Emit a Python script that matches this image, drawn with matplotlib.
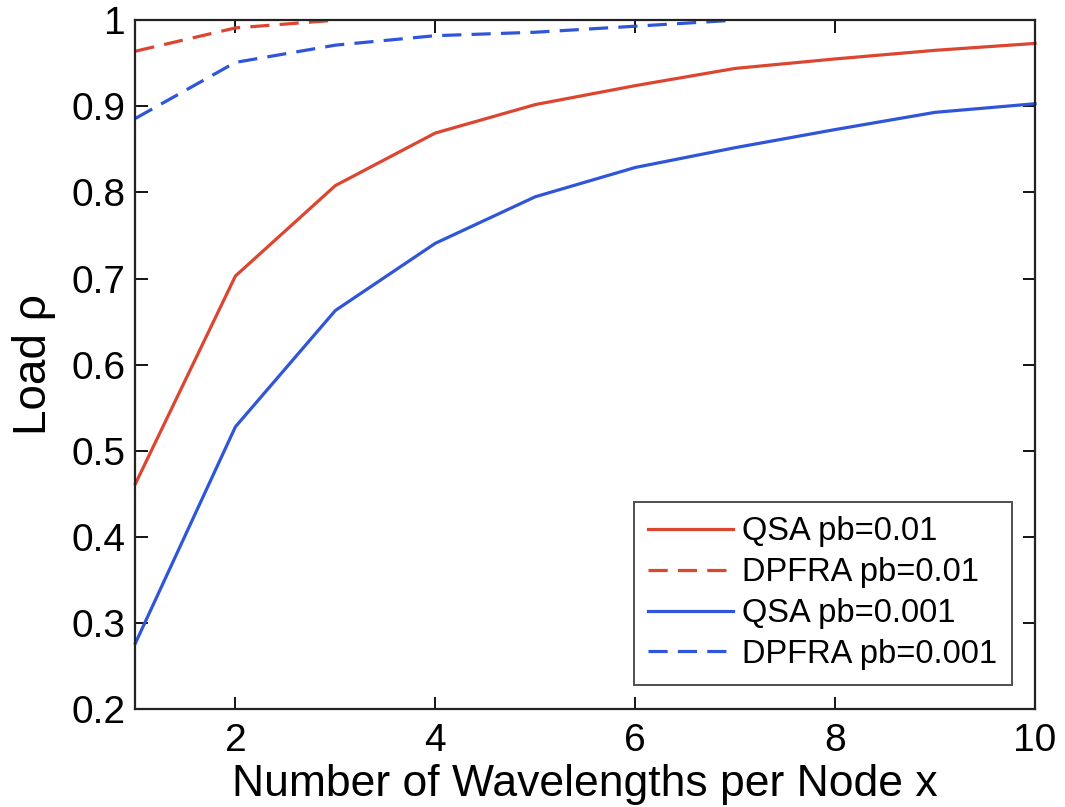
import matplotlib
matplotlib.use("Agg")
import matplotlib.pyplot as plt

plt.rcParams['font.family'] = ['Liberation Sans', 'DejaVu Sans']

x_all = [1, 2, 3, 4, 5, 6, 7, 8, 9, 10]
qsa_001 = [0.462, 0.703, 0.808, 0.869, 0.902, 0.924, 0.944, 0.955, 0.965, 0.973]
qsa_0001 = [0.277, 0.528, 0.663, 0.741, 0.795, 0.829, 0.852, 0.873, 0.893, 0.903]
x_dp001 = [1, 2, 3]
dp_001 = [0.964, 0.991, 1.0]
x_dp0001 = [1, 2, 3, 4, 5, 6, 7]
dp_0001 = [0.886, 0.951, 0.971, 0.982, 0.986, 0.993, 1.0]

labels = ['QSA pb=0.01', 'DPFRA pb=0.01', 'QSA pb=0.001', 'DPFRA pb=0.001']
red = '#dc4530'
blue = '#2f55d8'

fig = plt.figure(figsize=(10.65, 8.07), dpi=100)
ax = fig.add_axes([0.1272, 0.121, 0.8446, 0.854])

lw = 2.3
dash = (0, (6, 3.2))
ax.plot(x_all, qsa_001, color=red, lw=lw, label=labels[0], clip_on=False)
ax.plot(x_dp001, dp_001, color=red, lw=lw, ls=dash, label=labels[1], clip_on=False)
ax.plot(x_all, qsa_0001, color=blue, lw=lw, label=labels[2], clip_on=False)
ax.plot(x_dp0001, dp_0001, color=blue, lw=lw, ls=dash, label=labels[3], clip_on=False)

ax.set_xlim(1, 10)
ax.set_ylim(0.2, 1.0)
ax.set_xticks([2, 4, 6, 8, 10])
ax.set_yticks([0.2, 0.3, 0.4, 0.5, 0.6, 0.7, 0.8, 0.9, 1.0])
ax.set_yticklabels(['0.2', '0.3', '0.4', '0.5', '0.6', '0.7', '0.8', '0.9', '1'])
ax.tick_params(direction='in', length=9, width=1.3, labelsize=28, top=True, right=True)
ax.tick_params(axis='y', pad=7)
ax.tick_params(axis='x', pad=10)
for s in ax.spines.values():
    s.set_linewidth(1.6)
    s.set_color('#222222')

ax.set_xlabel('Number of Wavelengths per Node x', fontsize=32, labelpad=3.5)
ax.set_ylabel('Load ρ', fontsize=33, labelpad=11)

leg = ax.legend(loc='lower right', bbox_to_anchor=(0.9745, 0.036), fontsize=23.5,
                frameon=True, fancybox=False, edgecolor='#222222',
                handlelength=2.6, handletextpad=0.28, borderpad=0.45, labelspacing=0.3,
                borderaxespad=0)
leg.get_frame().set_linewidth(1.4)

fig.savefig('out.png', dpi=100)
